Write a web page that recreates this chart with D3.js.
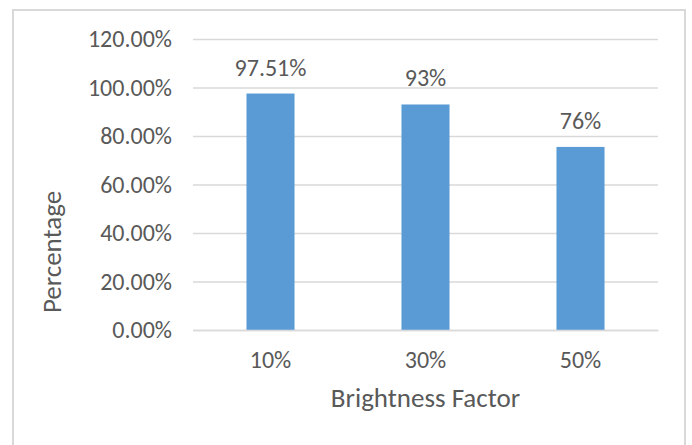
<!DOCTYPE html>
<html>
<head>
<meta charset="utf-8">
<script src="https://cdn.jsdelivr.net/npm/d3@7"></script>
<style>
  body { margin: 0; background: #fff; }
  svg { display: block; }
  text { font-family: Calibri, Carlito, "Open Sans", sans-serif; fill: #595959; }
</style>
</head>
<body>
<svg id="chart"></svg>
<script>
// values
const categories = ["10%", "30%", "50%"];
const values = [0.9751, 0.93, 0.755];
const valueLabels = ["97.51%", "93%", "76%"];
const yTicks = [0, 0.2, 0.4, 0.6, 0.8, 1.0, 1.2];

const w = 692, h = 445;
const margin = { top: 39, right: 34, bottom: 115, left: 193 };
const innerWidth = w - margin.left - margin.right;
const innerHeight = h - margin.top - margin.bottom;

const svg = d3.select("#chart").attr("width", w).attr("height", h);

// chart area border: left, top and right sides (bottom is off the picture)
svg.append("path")
  .attr("d", d3.line()([[13, h], [13, 10], [685, 10], [685, h]]))
  .attr("fill", "none")
  .attr("stroke", "#d9d9d9")
  .attr("stroke-width", 2);

const g = svg.append("g")
  .attr("transform", `translate(${margin.left}, ${margin.top})`);

let xScale = d3.scaleBand()
  .domain(categories)
  .range([0, innerWidth])
  .paddingInner(0.69)
  .paddingOuter(0.345);

let yScale = d3.scaleLinear()
  .domain([0, 1.2])
  .range([innerHeight, 0]);

// gridlines
g.append("g")
  .call(d3.axisLeft(yScale).tickValues(yTicks).tickSize(-innerWidth).tickFormat(""))
  .call(a => a.select(".domain").remove())
  .selectAll("line")
  .attr("stroke", "#d9d9d9")
  .attr("stroke-width", 1.3);

// y tick labels
const yAxis = g.append("g")
  .call(d3.axisLeft(yScale).tickValues(yTicks).tickSize(0).tickPadding(21)
    .tickFormat(d3.format(".2%")));
yAxis.select(".domain").remove();
yAxis.attr("font-family", null).attr("font-size", 24);
yAxis.selectAll("text").attr("fill", "#595959");

// bars
g.selectAll("rect.bar")
  .data(values)
  .enter()
  .append("rect")
  .attr("class", "bar")
  .attr("x", (d, i) => xScale(categories[i]))
  .attr("y", d => yScale(d))
  .attr("width", xScale.bandwidth())
  .attr("height", d => innerHeight - yScale(d))
  .attr("fill", "#5b9bd5");

// value labels
g.selectAll("text.val")
  .data(values)
  .enter()
  .append("text")
  .attr("class", "val")
  .attr("x", (d, i) => xScale(categories[i]) + xScale.bandwidth() / 2)
  .attr("y", d => yScale(d) - 18)
  .attr("text-anchor", "middle")
  .attr("font-size", 24)
  .text((d, i) => valueLabels[i]);

// x axis line (the 0 gridline) and category labels
const xAxis = g.append("g")
  .attr("transform", `translate(0, ${innerHeight})`)
  .call(d3.axisBottom(xScale).tickSize(0).tickPadding(21));
xAxis.select(".domain").attr("stroke", "#d9d9d9").attr("stroke-width", 1.3);
xAxis.attr("font-family", null).attr("font-size", 24);
xAxis.selectAll("text").attr("fill", "#595959");

// axis titles
svg.append("text")
  .attr("x", margin.left + innerWidth / 2)
  .attr("y", 407)
  .attr("text-anchor", "middle")
  .attr("font-size", 27)
  .text("Brightness Factor");

svg.append("text")
  .attr("transform", "translate(61, 252) rotate(-90)")
  .attr("text-anchor", "middle")
  .attr("font-size", 27)
  .text("Percentage");
</script>
</body>
</html>
